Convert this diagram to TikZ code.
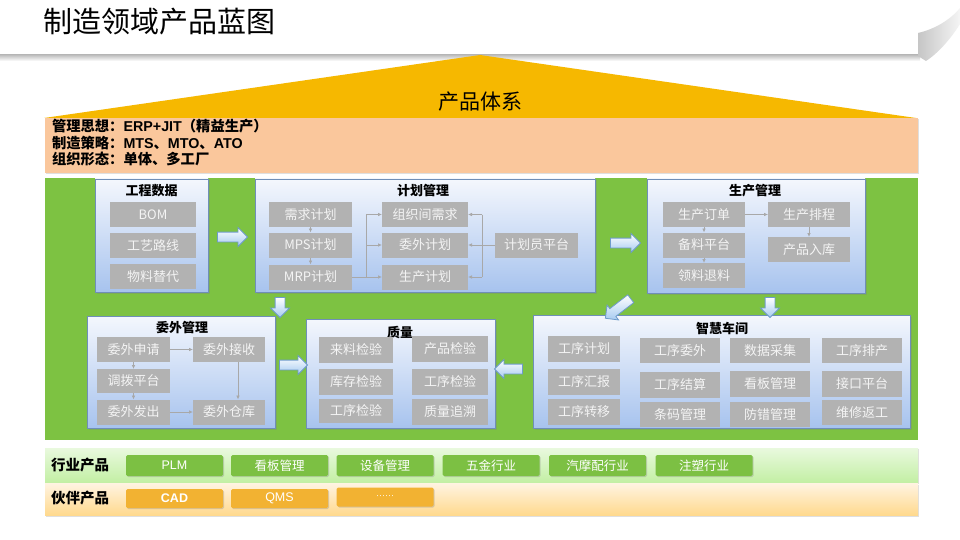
\documentclass[tikz,border=0pt]{standalone}
\usepackage{fontspec}
\setmainfont{Noto Sans CJK SC}
\newfontfamily\latinsans{Liberation Sans}
\usetikzlibrary{shapes.arrows,arrows.meta,shadows}
\definecolor{roofyellow}{HTML}{F6B800}
\definecolor{headorange}{HTML}{FAC79C}
\definecolor{bggreen}{HTML}{7DC242}
\definecolor{modborder}{HTML}{6F8FB8}
\definecolor{modtop}{HTML}{F4F7FD}
\definecolor{modbot}{HTML}{A7C3EE}
\definecolor{itemgray}{HTML}{B2B2B2}
\definecolor{itemtext}{HTML}{F4F4F4}
\definecolor{conngray}{HTML}{A8A8A8}
\definecolor{barrowborder}{HTML}{6E9BCB}
\definecolor{barrowbot}{HTML}{A6CBF0}
\definecolor{btngreen}{HTML}{7CC043}
\definecolor{btnorange}{HTML}{F2B232}
\definecolor{bandgtop}{HTML}{E9F9DE}
\definecolor{bandgbot}{HTML}{C2EFA3}
\definecolor{bandotop}{HTML}{FFF4E2}
\definecolor{bandobot}{HTML}{FFD98E}
\begin{document}
\begin{tikzpicture}[x=1pt,y=-1pt,
  every node/.style={inner sep=0pt, outer sep=0pt},
  module/.style={draw=modborder, line width=0.9pt, top color=modtop, bottom color=modbot,
    drop shadow={opacity=0.3, shadow xshift=1.5pt, shadow yshift=-1.5pt}},
  modtitle/.style={font=\bfseries\fontsize{13}{13}\selectfont},
  item/.style={fill=itemgray, text=itemtext, font=\fontsize{13}{13}\selectfont, minimum height=25pt},
  conn/.style={draw=conngray, line width=0.7pt},
  arr/.style={conn, -{Latex[length=4pt,width=3.5pt]}},
  barrow/.style={single arrow, draw=barrowborder, line width=0.8pt, top color=white, bottom color=barrowbot,
    minimum height=30pt, inner xsep=0pt, inner ysep=4.5pt, single arrow head extend=4.5pt},
  headtext/.style={anchor=west, font=\bfseries\fontsize{14.3}{14.3}\selectfont},
  bandlabel/.style={anchor=west, font=\bfseries\fontsize{14.5}{14.5}\selectfont},
  gbtn/.style={fill=btngreen, text=white, rounded corners=1.5pt, minimum height=21pt, minimum width=97pt,
    font=\fontsize{12.5}{12.5}\selectfont, drop shadow={opacity=0.3, shadow xshift=1pt, shadow yshift=-1pt}},
  obtn/.style={fill=btnorange, text=white, rounded corners=1.5pt, minimum height=19pt, minimum width=97pt,
    font=\fontsize{12.5}{12.5}\selectfont, drop shadow={opacity=0.3, shadow xshift=1pt, shadow yshift=-1pt}}
]
\useasboundingbox (0,0) rectangle (960,540);
\fill[white] (0,0) rectangle (960,540);

% title banner
\shade[top color=gray!50, bottom color=white] (0,55) rectangle (920,61);
\shade[left color=gray!45, right color=gray!8] (918,56) -- (918,33) .. controls (935,29) and (950,20) .. (960,8) -- (960,24) .. controls (950,40) and (937,54) .. (926,61) -- cycle;
\node[anchor=west, font=\fontsize{29}{29}\selectfont] (title) at (43,22) {制造领域产品蓝图};

% roof
\coordinate (rl) at (44,118);
\coordinate (ra) at (480,55);
\coordinate (rr) at (916,118);
\fill[roofyellow] (rl) -- (ra) -- (rr) -- cycle;
\node[font=\fontsize{21}{21}\selectfont] (roof) at (480,102) {产品体系};

% header band
\node[fill=headorange, minimum width=873pt, minimum height=55pt,
  drop shadow={opacity=0.25, shadow xshift=1pt, shadow yshift=-1.5pt}] (head) at (481.5,145.5) {};
\node[headtext] (h1) at (52,126) {管理思想：{\latinsans ERP+JIT}（精益生产）};
\node[headtext] (h2) at (52,143) {制造策略：{\latinsans MTS}、{\latinsans MTO}、{\latinsans ATO}};
\node[headtext] (h3) at (52,159.5) {组织形态：单体、多工厂};

% green area
\node[fill=bggreen, minimum width=873pt, minimum height=262pt] (green) at (481.5,309) {};

% 工程数据
\node[module, minimum width=113pt, minimum height=113pt] (gc) at (151.5,235.5) {};
\node[modtitle] (gct) at (151.5,190.5) {工程数据};
\node[item, minimum width=86pt] (bom) at (153,214.5) {BOM};
\node[item, minimum width=86pt] (gylx) at (153,245.5) {工艺路线};
\node[item, minimum width=86pt] (wltd) at (153,276.5) {物料替代};

% 计划管理
\node[module, minimum width=340pt, minimum height=113pt] (jh) at (425,235.5) {};
\node[modtitle] (jht) at (423,191) {计划管理};
\node[item, minimum width=83pt] (xqjh) at (310.5,214.5) {需求计划};
\node[item, minimum width=83pt] (mps) at (310.5,245) {MPS计划};
\node[item, minimum width=83pt] (mrp) at (310.5,277) {MRP计划};
\node[item, minimum width=86pt] (zzj) at (425,214.5) {组织间需求};
\node[item, minimum width=86pt] (wwjh) at (425,245) {委外计划};
\node[item, minimum width=86pt] (scjh) at (425,277) {生产计划};
\node[item, minimum width=83pt] (jhy) at (536.5,245) {计划员平台};
\coordinate (jl) at (366,277);
\coordinate (jr) at (482,245);
\draw[conn] (mrp.east) -- (jl);
\draw[conn] (jl |- zzj) -- (jl |- scjh);
\draw[arr] (jl |- zzj) -- (zzj.west);
\draw[arr] (jl |- wwjh) -- (wwjh.west);
\draw[arr] (jl) -- (scjh.west);
\draw[conn] (jhy.west) -- (jr);
\draw[conn] (jr |- zzj) -- (jr |- scjh);
\draw[arr] (jr |- zzj) -- (zzj.east);
\draw[arr] (jr) -- (wwjh.east);
\draw[arr] (jr |- scjh) -- (scjh.east);
\draw[arr] (xqjh.south) -- (mps.north);
\draw[arr] (mps.south) -- (mrp.north);

% 生产管理
\node[module, minimum width=218pt, minimum height=114pt] (sc) at (756,236) {};
\node[modtitle] (sct) at (755,191) {生产管理};
\node[item, minimum width=82pt] (scdd) at (704,214.5) {生产订单};
\node[item, minimum width=82pt] (blpt) at (704,245) {备料平台};
\node[item, minimum width=82pt] (lltl) at (704,275.5) {领料退料};
\node[item, minimum width=82pt] (scpc) at (809,214.5) {生产排程};
\node[item, minimum width=82pt] (cprk) at (809,249.5) {产品入库};
\draw[arr] (scdd.east) -- (scpc.west);
\draw[arr] (scdd.south) -- (blpt.north);
\draw[arr] (blpt.south) -- (lltl.north);
\draw[arr] (scpc.south) -- (cprk.north);

% 委外管理
\node[module, minimum width=188pt, minimum height=112pt] (ww) at (181,372) {};
\node[modtitle] (wwt) at (182,328) {委外管理};
\node[item, minimum width=73pt] (wwsq) at (133.5,349.5) {委外申请};
\node[item, minimum width=72pt] (wwjs) at (229,349.5) {委外接收};
\node[item, minimum width=73pt, minimum height=24pt] (dbpt) at (133.5,381) {调拨平台};
\node[item, minimum width=73pt] (wwfc) at (133.5,412) {委外发出};
\node[item, minimum width=72pt] (wwck) at (229,412) {委外仓库};
\draw[arr] (wwsq.east) -- (wwjs.west);
\draw[arr] (wwsq.south) -- (dbpt.north);
\draw[arr] (dbpt.south) -- (wwfc.north);
\draw[arr] (wwfc.east) -- (wwck.west);
\draw[arr] ([xshift=9pt]wwjs.south) -- ([xshift=9pt]wwck.north);

% 质量
\node[module, minimum width=189pt, minimum height=109pt] (zl) at (400.5,373.5) {};
\node[modtitle] (zlt) at (400,332) {质量};
\node[item, minimum width=74pt, minimum height=26pt] (llj) at (356,350) {来料检验};
\node[item, minimum width=74pt, minimum height=26pt] (kcj) at (356,381.5) {库存检验};
\node[item, minimum width=74pt, minimum height=24pt] (gxja) at (356,411) {工序检验};
\node[item, minimum width=76pt, minimum height=26pt] (cpj) at (450,349) {产品检验};
\node[item, minimum width=76pt, minimum height=26pt] (gxjb) at (450,381.5) {工序检验};
\node[item, minimum width=76pt, minimum height=26pt] (zlzs) at (450,412) {质量追溯};

% 智慧车间
\node[module, minimum width=377pt, minimum height=113pt] (zh) at (721.5,371.5) {};
\node[modtitle] (zht) at (722,328) {智慧车间};
\node[item, minimum width=72pt, minimum height=26pt] (z11) at (584,348.5) {工序计划};
\node[item, minimum width=72pt, minimum height=26pt] (z12) at (584,381.5) {工序汇报};
\node[item, minimum width=72pt, minimum height=26pt] (z13) at (584,412) {工序转移};
\node[item, minimum width=80pt] (z21) at (680,350.5) {工序委外};
\node[item, minimum width=80pt, minimum height=26pt] (z22) at (680,385) {工序结算};
\node[item, minimum width=80pt] (z23) at (680,414.5) {条码管理};
\node[item, minimum width=80pt] (z31) at (770,350.5) {数据采集};
\node[item, minimum width=80pt, minimum height=26pt] (z32) at (770,383.5) {看板管理};
\node[item, minimum width=80pt] (z33) at (770,414.5) {防错管理};
\node[item, minimum width=80pt] (z41) at (862,350.5) {工序排产};
\node[item, minimum width=80pt, minimum height=26pt] (z42) at (862,383.5) {接口平台};
\node[item, minimum width=80pt] (z43) at (862,412.5) {维修返工};

% block arrows
\node[barrow] (a1) at (230,237) {};
\node[barrow] (a2) at (623,243) {};
\node[barrow, rotate=-90, minimum height=20pt] (a3) at (280,305) {};
\node[barrow, rotate=-90, minimum height=20pt] (a4) at (770,305) {};
\node[barrow, rotate=217.6, minimum height=32pt] (a5) at (620,307) {};
\node[barrow, minimum height=28pt] (a6) at (291,365) {};
\node[barrow, rotate=180, minimum height=28pt] (a7) at (511,369) {};

% 行业产品
\node[top color=bandgtop, bottom color=bandgbot, minimum width=873pt, minimum height=35pt,
  drop shadow={opacity=0.25, shadow xshift=1pt, shadow yshift=-1pt}] (hy) at (481.5,465.5) {};
\node[bandlabel] (hyl) at (51,465) {行业产品};
\node[gbtn] (b1) at (174.5,465.5) {{\latinsans PLM}};
\node[gbtn] (b2) at (279.5,465.5) {看板管理};
\node[gbtn] (b3) at (385,465.5) {设备管理};
\node[gbtn] (b4) at (491,465.5) {五金行业};
\node[gbtn] (b5) at (597.5,465.5) {汽摩配行业};
\node[gbtn] (b6) at (704,465.5) {注塑行业};

% 伙伴产品
\node[top color=bandotop, bottom color=bandobot, minimum width=873pt, minimum height=32pt,
  drop shadow={opacity=0.25, shadow xshift=1pt, shadow yshift=-1.5pt}] (hb) at (481.5,499) {};
\node[bandlabel] (hbl) at (51,498) {伙伴产品};
\node[obtn] (c1) at (174.5,498.5) {{\latinsans\bfseries CAD}};
\node[obtn] (c2) at (279.5,498.5) {{\latinsans QMS}};
\node[obtn, font=\latinsans\fontsize{9}{9}\selectfont] (c3) at (385,497) {······};
\end{tikzpicture}
\end{document}
